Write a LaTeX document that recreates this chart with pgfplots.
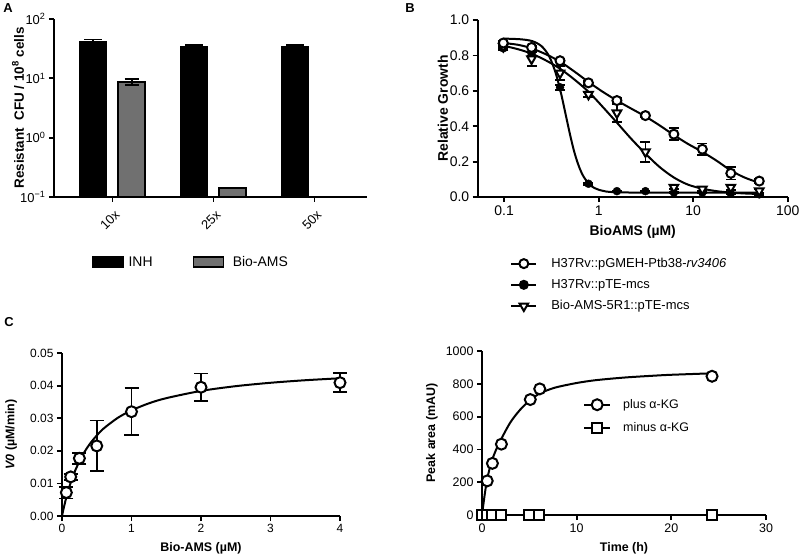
\documentclass[border=0pt]{standalone}
\usepackage{fontspec}
\setmainfont{Liberation Sans}
\usepackage{pgfplots}
\pgfplotsset{compat=1.18}
\definecolor{barg}{RGB}{112,112,112}
\pgfplotsset{
  prism/.style={
    scale only axis,
    axis lines=left,
    axis line style={-, line width=1.8bp, black},
    every tick/.style={black, line width=1.8bp},
    major tick length=5bp,
    tick align=outside,
    scaled ticks=false,
    clip=false,
  },
  ebar/.style={error bars/.cd, y dir=both, y explicit,
    error bar style={line width=1.8bp, black},
    error mark options={rotate=90, mark size=5bp, line width=1.8bp, black}},
  omark/.style={mark options={draw=black, fill=white, line width=2bp}},
}
\begin{document}
\begin{tikzpicture}
\path[use as bounding box] (0,0) rectangle (800bp,-556bp);
\node[font=\bfseries\fontsize{13}{15}\selectfont] at (8bp,-8bp) {A};
\node[font=\bfseries\fontsize{13}{15}\selectfont] at (410bp,-8bp) {B};
\node[font=\bfseries\fontsize{13}{15}\selectfont] at (9bp,-322bp) {C};

% ---------------- Panel A ----------------
\begin{axis}[prism, at={(54bp,-197bp)}, anchor=south west,
  width=313bp, height=178bp,
  tick label style={font=\fontsize{13}{15}\selectfont},
  label style={font=\bfseries\fontsize{13.5}{15}\selectfont},
  ymode=log, ymin=0.1, ymax=100, log origin y=infty,
  xmin=-0.58, xmax=2.52,
  xtick={0,1,2}, xticklabels={10x,25x,50x},
  x tick label style={rotate=45, anchor=north east, xshift=-1bp, yshift=-3bp},
  ytick={0.1,1,10,100},
  yticklabels={10\textsuperscript{−1},10\textsuperscript{0},10\textsuperscript{1},10\textsuperscript{2}},
  yminorticks=false,
  ylabel={Resistant\ \ CFU / 10\textsuperscript{8} cells},
  ylabel style={at={(axis description cs:-0.115,0.5)}, anchor=center},
  legend style={at={(axis description cs:0.438,-0.365)}, anchor=center,
    draw=none, fill=none, legend columns=2,
    font=\fontsize{14}{16}\selectfont,
    /tikz/every even column/.append style={column sep=38bp}},
  legend image code/.code={\draw[#1, line width=1.2bp] (0bp,-5bp) rectangle (30bp,5bp);},
]
\addlegendimage{fill=black, draw=black}
\addlegendentry{\hspace{3bp}INH}
\addlegendimage{fill=barg, draw=black}
\addlegendentry{\hspace{7bp}Bio-AMS}
\addplot[forget plot, ybar, bar width=27bp, fill=black, draw=black, line width=1bp,
  error bars/.cd, y dir=both, y explicit,
  error bar style={line width=1.8bp, black},
  error mark options={rotate=90, mark size=9bp, line width=1.8bp, black}]
  coordinates {(-0.19,41.7) +- (0,3.5) (0.81,35) +- (0,1.8) (1.81,35) +- (0,1.8)};
\addplot[forget plot, ybar, bar width=27bp, fill=barg, draw=black, line width=1.8bp,
  error bars/.cd, y dir=both, y explicit,
  error bar style={line width=1.8bp, black},
  error mark options={rotate=90, mark size=7bp, line width=1.8bp, black}]
  coordinates {(0.19,8.8) +- (0,1.0)};
\addplot[forget plot, ybar, bar width=27bp, fill=barg, draw=black, line width=1.8bp]
  coordinates {(1.19,0.144)};
\end{axis}

% ---------------- Panel B ----------------
\begin{axis}[prism, at={(477.7bp,-197bp)}, anchor=south west,
  width=310bp, height=177bp,
  tick label style={font=\fontsize{14}{16}\selectfont},
  label style={font=\bfseries\fontsize{14}{16}\selectfont},
  xmode=log, xmin=0.0525, xmax=100, ymin=0, ymax=1,
  xtick={0.1,1,10,100}, xticklabels={0.1,1,10,100}, xminorticks=false,
  ytick={0,0.2,0.4,0.6,0.8,1.0}, yticklabels={0.0,0.2,0.4,0.6,0.8,1.0},
  xlabel={BioAMS (µM)}, ylabel={Relative Growth},
  ylabel style={at={(axis description cs:-0.112,0.5)}, anchor=center},
  xlabel style={at={(axis description cs:0.5,-0.198)}, anchor=center},
  legend style={at={(axis description cs:0.095,-0.322)}, anchor=north west,
    draw=none, fill=none, font=\fontsize{13}{15}\selectfont,
    row sep=6.5bp},
  legend cell align=left,
  legend image code/.code={\draw[#1, mark repeat=2, mark phase=2] plot coordinates {(0bp,0bp) (12.5bp,0bp) (25bp,0bp)};},
]
\addlegendimage{black, line width=2bp, mark=*, mark size=4.5bp, omark}
\addlegendentry{\hspace{12bp}H37Rv::pGMEH-Ptb38-\textit{rv3406}}
\addlegendimage{black, line width=2bp, mark=*, mark size=4bp, mark options={fill=black}}
\addlegendentry{\hspace{12bp}H37Rv::pTE-mcs}
\addlegendimage{black, line width=2bp, mark=triangle*, mark size=5bp, mark options={draw=black, fill=white, rotate=180, line width=2bp}}
\addlegendentry{\hspace{12bp}Bio-AMS-5R1::pTE-mcs}
% fit curves
\addplot[forget plot, black, line width=2bp, smooth] coordinates {
 (0.098,0.87) (0.14,0.86) (0.195,0.84) (0.28,0.805) (0.39,0.765) (0.55,0.71)
 (0.78,0.65) (1.1,0.595) (1.56,0.545) (2.2,0.50) (3.125,0.455) (4.4,0.405)
 (6.25,0.35) (8.8,0.30) (12.5,0.255) (17.7,0.205) (25,0.15) (35,0.11) (50,0.08)};
\addplot[forget plot, black, line width=2bp, smooth] coordinates {
 (0.098,0.895) (0.15,0.891) (0.2,0.880) (0.25,0.851) (0.3,0.794) (0.35,0.702)
 (0.4,0.585) (0.45,0.46) (0.5,0.348) (0.55,0.258) (0.6,0.192) (0.65,0.1445)
 (0.7,0.111) (0.8,0.071) (0.9,0.051) (1.0,0.041) (1.2,0.031) (1.5,0.027)
 (2,0.0255) (5,0.025) (50,0.025)};
\addplot[forget plot, black, line width=2bp, smooth] coordinates {
 (0.098,0.855) (0.14,0.835) (0.195,0.81) (0.28,0.77) (0.39,0.725) (0.55,0.665)
 (0.78,0.595) (1.1,0.51) (1.56,0.42) (2.2,0.33) (3.125,0.245) (4.4,0.17)
 (6.25,0.11) (8.8,0.07) (12.5,0.047) (17.7,0.033) (25,0.025) (35,0.02) (50,0.017)};
% data
\addplot[forget plot, only marks, mark=*, mark size=4bp, mark options={draw=black, fill=black}, ebar] coordinates {
 (0.098,0.84) +- (0,0.01) (0.195,0.81) +- (0,0.01) (0.39,0.62) +- (0,0.015) (0.78,0.075) +- (0,0.005)
 (1.56,0.033) +- (0,0.004) (3.125,0.033) +- (0,0.004) (6.25,0.025) +- (0,0.004) (12.5,0.025) +- (0,0.004)
 (25,0.02) +- (0,0.004) (50,0.015) +- (0,0.004)};
\addplot[forget plot, only marks, mark=triangle*, mark size=5bp, mark options={draw=black, fill=white, rotate=180, line width=2bp}, ebar] coordinates {
 (0.098,0.85) +- (0,0.01) (0.195,0.78) +- (0,0.04) (0.39,0.70) +- (0,0.04) (0.78,0.58) +- (0,0.015)
 (1.56,0.475) +- (0,0.05) (3.125,0.255) +- (0,0.058) (6.25,0.055) +- (0,0.012) (12.5,0.045) +- (0,0.01)
 (25,0.055) +- (0,0.015) (50,0.035) +- (0,0.01)};
\addplot[forget plot, only marks, mark=*, mark size=4.5bp, omark, ebar] coordinates {
 (0.098,0.87) +- (0,0.01) (0.195,0.845) +- (0,0.01) (0.39,0.77) +- (0,0.01) (0.78,0.645) +- (0,0.01)
 (1.56,0.545) +- (0,0.015) (3.125,0.46) +- (0,0.01) (6.25,0.355) +- (0,0.033) (12.5,0.27) +- (0,0.032)
 (25,0.134) +- (0,0.035) (50,0.09) +- (0,0.01)};
\end{axis}

% ---------------- Panel C ----------------
\begin{axis}[prism, at={(62bp,-516bp)}, anchor=south west,
  width=278bp, height=163bp,
  tick label style={font=\fontsize{12}{14}\selectfont},
  label style={font=\bfseries\fontsize{12.5}{14}\selectfont},
  xmin=0, xmax=4, ymin=0, ymax=0.05,
  xtick={0,1,2,3,4}, xticklabels={0,1,2,3,4},
  ytick={0,0.01,0.02,0.03,0.04,0.05}, yticklabels={0.00,0.01,0.02,0.03,0.04,0.05},
  xlabel={Bio-AMS (µM)}, ylabel={\textit{V0} (µM/min)},
  ylabel style={at={(axis description cs:-0.183,0.5)}, anchor=center},
  xlabel style={at={(axis description cs:0.5,-0.196)}, anchor=center},
]
\addplot[black, line width=2bp, smooth] coordinates {
 (0,0) (0.02,0.0020) (0.05,0.0047) (0.1,0.00855) (0.15,0.01175) (0.2,0.01446)
 (0.3,0.0188) (0.4,0.0221) (0.5,0.0247) (0.6,0.02686) (0.8,0.03008) (1,0.03241)
 (1.25,0.03456) (1.5,0.03615) (2,0.03837) (2.5,0.03983) (3,0.04087) (3.5,0.04165) (4,0.04225)};
\addplot[only marks, mark=*, mark size=5.5bp, omark, ebar,
  error mark options={rotate=90, mark size=7bp, line width=1.8bp, black}] coordinates {
 (0.0625,0.0072) +- (0,0.0018) (0.125,0.012) +- (0,0.001) (0.25,0.0177) +- (0,0.0017)
 (0.5,0.0215) +- (0,0.0078) (1,0.032) +- (0,0.0072) (2,0.0395) +- (0,0.0042) (4,0.0409) +- (0,0.0029)};
\end{axis}

% ---------------- Panel D ----------------
\begin{axis}[prism, at={(482bp,-515bp)}, anchor=south west,
  width=284bp, height=164bp,
  tick label style={font=\fontsize{12.5}{14}\selectfont},
  label style={font=\bfseries\fontsize{12.5}{14}\selectfont},
  xmin=0, xmax=30, ymin=0, ymax=1000,
  xtick={0,10,20,30}, xticklabels={0,10,20,30},
  ytick={0,200,400,600,800,1000}, yticklabels={0,200,400,600,800,1000},
  xlabel={Time (h)}, ylabel={Peak area (mAU)},
  ylabel style={at={(axis description cs:-0.176,0.5)}, anchor=center},
  xlabel style={at={(axis description cs:0.5,-0.2)}, anchor=center},
  legend style={at={(axis description cs:0.345,0.73)}, anchor=north west,
    draw=none, fill=none, font=\fontsize{12.5}{14}\selectfont, row sep=8.5bp},
  legend cell align=left,
  legend image code/.code={\draw[#1, mark repeat=2, mark phase=2] plot coordinates {(0bp,0bp) (13bp,0bp) (26bp,0bp)};},
]
\addlegendimage{black, line width=2bp, mark=*, mark size=5.5bp, omark}
\addlegendentry{\hspace{10bp}plus α-KG}
\addlegendimage{black, line width=2bp, mark=square*, mark size=5bp, omark}
\addlegendentry{\hspace{10bp}minus α-KG}
\addplot[forget plot, black, line width=2bp, smooth] coordinates {
 (0,0) (0.25,110) (0.5,205) (0.75,270) (1,325) (1.5,400) (2,460) (3,565) (4,640)
 (5,697) (6,738) (7,763) (8,781) (10,805) (12,822) (15,838) (18,849) (20,855) (24.3,864)};
\addplot[forget plot, black, line width=2bp, mark=square*, mark size=5bp, omark] coordinates {
 (0,0) (0.5,0) (1.1,0) (2,0) (5,0) (6,0) (24.3,0)};
\addplot[forget plot, only marks, mark=*, mark size=5.5bp, omark] coordinates {
 (0.55,208) (1.1,315) (2.05,432) (5.1,704) (6.1,769) (24.3,846)};
\end{axis}
\end{tikzpicture}
\end{document}
